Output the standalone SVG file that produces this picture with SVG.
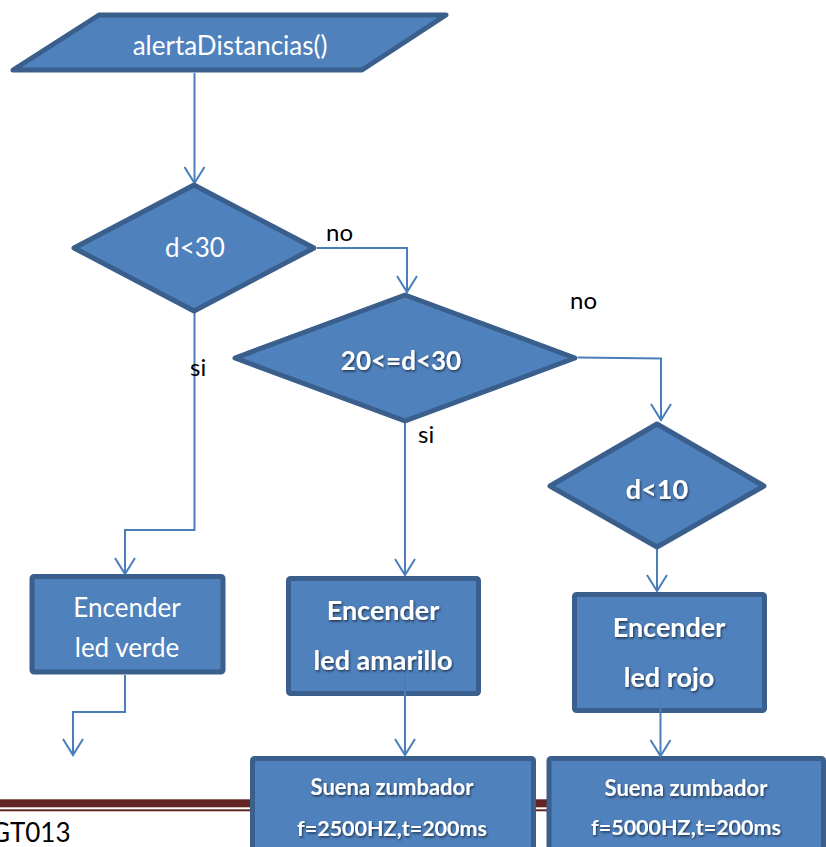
<svg xmlns="http://www.w3.org/2000/svg" width="826" height="847" viewBox="0 0 826 847">
  <style>
    .shape { fill: #4F81BD; stroke: #3A5F8C; stroke-width: 5; stroke-linejoin: round; }
    .wire { fill: none; stroke: #4A7EBB; stroke-width: 2; }
    .t { font-family: Lato, "Liberation Sans", sans-serif; fill: #FFFFFF; text-anchor: middle; }
    .n { font-size: 26px; }
    .b { font-weight: bold; filter: url(#shadow); }
    .lbl { font-family: Lato, "Liberation Sans", sans-serif; font-size: 24px; fill: #000000; }
  </style>
  <defs>
    <marker id="arrow" markerUnits="userSpaceOnUse" markerWidth="24" markerHeight="24" viewBox="-20 -12 24 24" refX="0" refY="0" orient="auto" overflow="visible">
      <path d="M-16,-10 L0,0 L-16,10" fill="none" stroke="#4A7EBB" stroke-width="2"/>
    </marker>
    <filter id="shadow" x="-20%" y="-40%" width="140%" height="180%">
      <feDropShadow dx="1" dy="1.5" stdDeviation="1" flood-color="#000000" flood-opacity="0.6"/>
    </filter>
  </defs>

  <!-- page footer rule and reference code -->
  <g id="footer">
    <rect x="0" y="799.3" width="826" height="8" fill="#632523"/>
    <rect x="0" y="809.3" width="826" height="2" fill="#632523"/>
    <text x="-9" y="841.5" font-family="Lato, 'Liberation Sans', sans-serif" font-size="26" fill="#000000">GT013</text>
  </g>

  <!-- connectors -->
  <g id="connectors">
    <path class="wire" d="M194.5,73 L194.5,183" marker-end="url(#arrow)"/>
    <path class="wire" d="M317,248 L407,248 L407,292" marker-end="url(#arrow)"/>
    <path class="wire" d="M194.5,313 L194.5,530 L125,530 L125,574" marker-end="url(#arrow)"/>
    <path class="wire" d="M578,357.5 L661,358.5 L661,420" marker-end="url(#arrow)"/>
    <path class="wire" d="M405,423 L405,575" marker-end="url(#arrow)"/>
    <path class="wire" d="M657,549 L657,591" marker-end="url(#arrow)"/>
    <path class="wire" d="M125,675 L125,712 L73,712 L73,755" marker-end="url(#arrow)"/>
  </g>

  <g id="start">
    <path class="shape" d="M99,15 L446,15 L362,70 L13,70 Z"/>
    <text class="t n" x="230" y="55">alertaDistancias()</text>
  </g>

  <g id="check30">
    <path class="shape" d="M194,185 L314,248 L194,311 L74,248 Z"/>
    <text class="t n" x="195" y="257">d&lt;30</text>
  </g>

  <g id="check20">
    <path class="shape" d="M405,295 L575,358 L405,421 L235,358 Z"/>
    <text class="t b" x="401" y="370" font-size="26">20&lt;=d&lt;30</text>
  </g>

  <g id="check10">
    <path class="shape" d="M657,424 L764,486 L657,547 L550,486 Z"/>
    <text class="t b" x="657" y="499" font-size="27">d&lt;10</text>
  </g>

  <g id="ledVerde">
    <rect class="shape" x="32" y="576.5" width="191" height="95.5" rx="2"/>
    <text class="t n" x="127" y="617">Encender</text>
    <text class="t n" x="127" y="657">led verde</text>
  </g>

  <g id="ledAmarillo">
    <rect class="shape" x="288.5" y="578.5" width="190" height="115" rx="2"/>
    <text class="t b" x="383" y="620" font-size="27">Encender</text>
    <text class="t b" x="383" y="670" font-size="27">led amarillo</text>
  </g>

  <g id="ledRojo">
    <rect class="shape" x="574.5" y="594.5" width="190" height="116" rx="2"/>
    <text class="t b" x="669" y="637" font-size="27">Encender</text>
    <text class="t b" x="669" y="687" font-size="27">led rojo</text>
  </g>

  <g id="zumbador2500">
    <rect class="shape" x="252.5" y="758.5" width="281" height="110" rx="2"/>
    <text class="t b" x="392" y="795" font-size="22">Suena zumbador</text>
    <text class="t b" x="392" y="836" font-size="21.5">f=2500HZ,t=200ms</text>
  </g>

  <g id="zumbador5000">
    <rect class="shape" x="549" y="758.5" width="274.5" height="110" rx="2"/>
    <text class="t b" x="686" y="796" font-size="22">Suena zumbador</text>
    <text class="t b" x="686" y="835" font-size="21.5">f=5000HZ,t=200ms</text>
  </g>

  <!-- branch labels -->
  <g id="labels">
    <text class="lbl" x="326" y="241">no</text>
    <text class="lbl" x="570" y="309">no</text>
    <text class="lbl" x="190" y="376">si</text>
    <text class="lbl" x="418" y="443">si</text>
  </g>

  <!-- connectors leaving the two upper boxes are drawn over their fill -->
  <g id="connectors-over">
    <path class="wire" d="M405,673 L405,755" marker-end="url(#arrow)"/>
    <path class="wire" d="M660.5,700 L660.5,756" marker-end="url(#arrow)"/>
  </g>
</svg>
